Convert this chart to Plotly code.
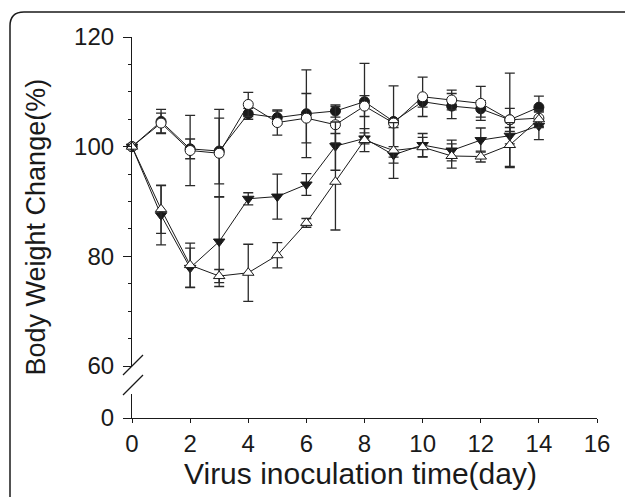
import plotly.graph_objects as go

days = list(range(15))

filled_circle = [100, 104.6, 99.6, 99.2, 106.0, 105.3, 106.0, 106.5, 108.2, 104.6, 108.2, 107.4, 106.9, 104.9, 107.2]
filled_circle_err = [0, 2.2, 1.8, 6.0, 1.0, 1.2, 8.0, 1.1, 7.0, 6.5, 1.0, 2.3, 1.5, 8.5, 2.0]

open_circle = [100, 104.3, 99.3, 98.8, 107.7, 104.4, 105.2, 104.0, 107.4, 104.3, 109.1, 108.5, 107.9, 104.9, 105.2]
open_circle_err = [0, 1.8, 6.4, 8.0, 2.2, 2.3, 4.5, 3.3, 1.9, 0.8, 3.6, 1.8, 3.1, 2.1, 1.5]

down_triangle = [100, 87.5, 77.9, 82.7, 90.5, 90.9, 93.1, 100.1, 101.5, 98.5, 100.3, 99.3, 101.2, 102.0, 103.8]
down_triangle_err = [0, 5.4, 3.6, 8.2, 1.1, 4.1, 2.0, 4.4, 1.0, 1.5, 2.1, 1.9, 2.2, 1.5, 2.5]

up_triangle = [100, 88.6, 78.4, 76.4, 77.0, 80.2, 86.1, 93.6, 101.2, 99.3, 99.9, 98.3, 98.2, 100.3, 105.0]
up_triangle_err = [0, 4.4, 4.0, 1.2, 5.2, 2.3, 0.8, 8.8, 2.1, 5.1, 1.8, 2.2, 1.0, 4.1, 1.5]

x_ticks = [0, 2, 4, 6, 8, 10, 12, 14, 16]
y_ticks_upper = [60, 80, 100, 120]
y_ticks_lower = [0]

W, H = 627, 497
ML, MR, MT, MB = 132, 30, 37, 79
PW, PH = W - ML - MR, H - MT - MB


def px(xp):
    return (xp - ML) / PW


def py(yp):
    return (H - MB - yp) / PH


INK = "#1a1a1a"
FONT = "Liberation Sans, Arial, sans-serif"

fig = go.Figure()

series = [
    (filled_circle, filled_circle_err, "circle", INK, 10),
    (open_circle, open_circle_err, "circle", "white", 10),
    (down_triangle, down_triangle_err, "triangle-down", INK, 10),
    (up_triangle, up_triangle_err, "triangle-up", "white", 10),
]
for vals, errs, sym, fill, size in series:
    fig.add_trace(go.Scatter(
        x=days, y=vals, mode="lines+markers",
        line=dict(color=INK, width=1),
        marker=dict(symbol=sym, size=size, color=fill, line=dict(color=INK, width=1)),
        error_y=dict(type="data", array=errs, visible=True, color="#2a2a2a", thickness=1.3, width=5),
        showlegend=False, xaxis="x", yaxis="y",
        cliponaxis=False,
    ))

# empty trace so the lower (broken) y-axis segment is rendered
fig.add_trace(go.Scatter(x=[None], y=[None], xaxis="x", yaxis="y2", showlegend=False, hoverinfo="skip"))

upper_bottom = py(366)
lower_top = py(394)

axis_common = dict(showline=True, linecolor=INK, linewidth=1.2, ticks="outside",
                   tickcolor=INK, tickwidth=1.2, showgrid=False, zeroline=False,
                   automargin=False,
                   tickfont=dict(family=FONT, size=24, color=INK))

fig.update_layout(
    width=W, height=H,
    margin=dict(l=ML, r=MR, t=MT, b=MB, autoexpand=False),
    plot_bgcolor="white", paper_bgcolor="white",
    xaxis=dict(range=[0, 16], tickvals=x_ticks, ticklen=4, anchor="y2", **axis_common),
    yaxis=dict(range=[60, 120], domain=[upper_bottom, 1], tickvals=y_ticks_upper, ticklen=8,
               ticklabelstandoff=4,
               minor=dict(dtick=5, ticklen=3, tickcolor=INK, ticks="outside", tickwidth=1.2),
               anchor="x", **axis_common),
    yaxis2=dict(range=[0, 5], domain=[0, lower_top], tickvals=y_ticks_lower, ticklen=8,
                ticklabelstandoff=4, anchor="x", **axis_common),
    annotations=[
        dict(text="Body Weight Change(%)", textangle=-90, xref="paper", yref="paper",
             x=px(35), y=0.5, xanchor="center", yanchor="middle", showarrow=False,
             font=dict(family=FONT, size=27, color=INK)),
        dict(text="Virus inoculation time(day)", xref="paper", yref="paper",
             x=px(360), y=py(474), xanchor="center", yanchor="middle", showarrow=False,
             borderpad=0,
             font=dict(family=FONT, size=30, color=INK)),
    ],
    shapes=[
        dict(type="line", xref="paper", yref="paper", x0=px(123), y0=py(375), x1=px(143), y1=py(355),
             line=dict(color=INK, width=1.2)),
        dict(type="line", xref="paper", yref="paper", x0=px(123), y0=py(395), x1=px(143), y1=py(375),
             line=dict(color=INK, width=1.2)),
        dict(type="path", xref="paper", yref="paper",
             path=f"M {px(10)} {py(497)} L {px(10)} {py(26)} Q {px(10)} {py(12)} {px(24)} {py(12)} L {px(625)} {py(12)}",
             line=dict(color=INK, width=1.5)),
    ],
)

fig.write_html("out.html", config={"displayModeBar": False},
               post_script="document.body.style.margin='0';")
